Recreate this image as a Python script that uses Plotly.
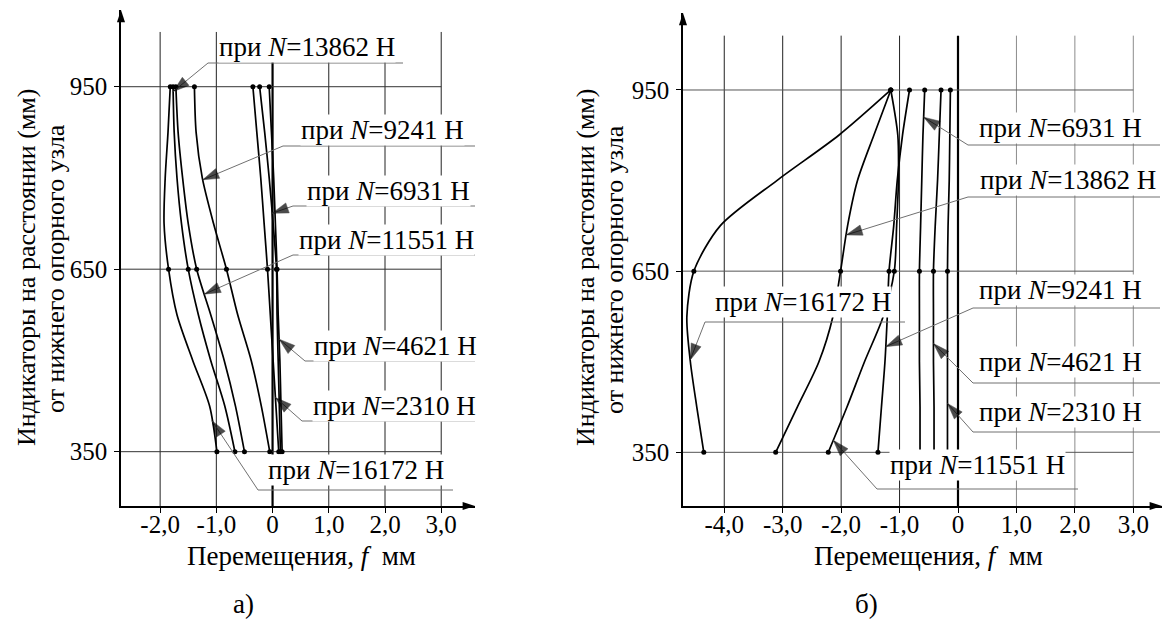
import numpy as np
import plotly.graph_objects as go

W, H = 1165, 623
SERIF = "Liberation Serif, Times New Roman, Times, serif"

# Indicator positions along the member, mm from the lower support node
depth = [350, 425, 500, 575, 650, 725, 800, 875, 950]
gauge_levels = [350, 650, 950]

# Panel а): displacement f, mm, at each depth level
f_a_16172 = [-0.99, -1.12, -1.42, -1.70, -1.85, -1.93, -1.91, -1.86, -1.82]
f_a_13862 = [-0.67, -0.85, -1.10, -1.32, -1.50, -1.62, -1.70, -1.75, -1.77]
f_a_11551 = [-0.50, -0.66, -0.86, -1.10, -1.35, -1.50, -1.60, -1.68, -1.72]
f_a_9241 = [-0.05, -0.20, -0.38, -0.62, -0.82, -1.05, -1.25, -1.36, -1.39]
f_a_6931 = [0.14, 0.12, 0.10, 0.08, 0.07, 0.01, -0.06, -0.14, -0.23]
f_a_4621 = [0.17, 0.15, 0.13, 0.10, 0.08, 0.05, 0.02, -0.02, -0.06]
f_a_2310 = [0.11, 0.06, 0.01, -0.04, -0.09, -0.15, -0.21, -0.28, -0.35]

# Panel б): displacement f, mm, at each depth level
f_b_16172 = [-4.35, -4.47, -4.58, -4.64, -4.52, -4.07, -3.10, -2.04, -1.15]
f_b_13862 = [-3.12, -2.75, -2.38, -2.14, -2.01, -1.89, -1.72, -1.44, -1.15]
f_b_11551 = [-2.22, -1.90, -1.60, -1.28, -1.09, -1.05, -1.02, -1.03, -1.15]
f_b_9241 = [-1.37, -1.31, -1.25, -1.21, -1.18, -1.10, -1.04, -0.95, -0.83]
f_b_6931 = [-0.65, -0.65, -0.66, -0.66, -0.66, -0.64, -0.62, -0.60, -0.57]
f_b_4621 = [-0.41, -0.41, -0.42, -0.42, -0.42, -0.39, -0.35, -0.32, -0.29]
f_b_2310 = [-0.18, -0.18, -0.18, -0.18, -0.18, -0.17, -0.15, -0.14, -0.13]

series_a = {16172: f_a_16172, 13862: f_a_13862, 11551: f_a_11551, 9241: f_a_9241,
            6931: f_a_6931, 4621: f_a_4621, 2310: f_a_2310}
series_b = {16172: f_b_16172, 13862: f_b_13862, 11551: f_b_11551, 9241: f_b_9241,
            6931: f_b_6931, 4621: f_b_4621, 2310: f_b_2310}

xtick_a = [-2, -1, 0, 1, 2, 3]
xtext_a = ["-2,0", "-1,0", "0", "1,0", "2,0", "3,0"]
xtick_b = [-4, -3, -2, -1, 0, 1, 2, 3]
xtext_b = ["-4,0", "-3,0", "-2,0", "-1,0", "0", "1,0", "2,0", "3,0"]
ytick = [350, 650, 950]
ytext = ["350", "650", "950"]

# Panel frames: axis box in page pixels and the value ranges spanned by it
panels = {
    "a": dict(xa="x", ya="y", px=(121, 475), py=(506, 10),
              xr=(-2.696, 3.601), yr=(260.7, 1076.1)),
    "b": dict(xa="x2", ya="y2", px=(683, 1162), py=(506, 13),
              xr=(-4.706, 3.491), yr=(261.1, 1077.5)),
}
GRID_TOP = 1040


def to_data(p, px, py):
    x0, x1 = p["px"]
    a0, a1 = p["xr"]
    y0, y1 = p["py"]
    b0, b1 = p["yr"]
    return (a0 + (px - x0) / (x1 - x0) * (a1 - a0),
            b0 + (py - y0) / (y1 - y0) * (b1 - b0))


fig = go.Figure()
shapes = []
annotations = []

axis_font = dict(family=SERIF, size=25, color="black")
text_font = dict(family=SERIF, size=27, color="black")

for key, xt, xtt in (("a", xtick_a, xtext_a), ("b", xtick_b, xtext_b)):
    p = panels[key]
    xname = "xaxis" if p["xa"] == "x" else "xaxis2"
    yname = "yaxis" if p["ya"] == "y" else "yaxis2"
    fig.layout[xname] = dict(
        domain=[p["px"][0] / W, p["px"][1] / W], range=list(p["xr"]),
        tickmode="array", tickvals=xt, ticktext=xtt,
        showgrid=False, zeroline=False, showline=True, linecolor="black", linewidth=1.5,
        ticks="outside", ticklen=5, tickwidth=1, tickcolor="black",
        tickfont=axis_font, ticklabelstandoff=-10, anchor=p["ya"], fixedrange=True)
    fig.layout[yname] = dict(
        domain=[1 - p["py"][0] / H, 1 - p["py"][1] / H], range=list(p["yr"]),
        tickmode="array", tickvals=ytick, ticktext=ytext,
        showgrid=False, zeroline=False, showline=True, linecolor="black", linewidth=1.5,
        ticks="outside", ticklen=5, tickwidth=1, tickcolor="black",
        tickfont=axis_font, ticklabelstandoff=2, anchor=p["xa"], fixedrange=True)

    # grid: verticals at every tick, the zero line heavier; horizontals up to 3,0
    for v in xt:
        col = "#222222" if (key == "a" or v <= 0) else "#8c8c8c"
        shapes.append(dict(type="line", xref=p["xa"], yref=p["ya"], x0=v, x1=v,
                           y0=p["yr"][0], y1=GRID_TOP, layer="below",
                           line=dict(color="black" if v == 0 else col, width=2.2 if v == 0 else 1)))
    for h in ytick:
        shapes.append(dict(type="line", xref=p["xa"], yref=p["ya"], x0=p["xr"][0], x1=3.0,
                           y0=h, y1=h, layer="below",
                           line=dict(color="#333333" if key == "a" else "#555555", width=1)))

    # arrowheads closing both axes
    fig.add_trace(go.Scatter(x=[p["xr"][0]], y=[p["yr"][1]], mode="markers",
                             marker=dict(symbol="arrow", angle=0, size=13, color="black"),
                             cliponaxis=False, xaxis=p["xa"], yaxis=p["ya"], hoverinfo="skip"))
    fig.add_trace(go.Scatter(x=[p["xr"][1]], y=[p["yr"][0]], mode="markers",
                             marker=dict(symbol="arrow", angle=90, size=13, color="black"),
                             cliponaxis=False, xaxis=p["xa"], yaxis=p["ya"], hoverinfo="skip"))

# displacement profiles with the measured indicator points
for key, series in (("a", series_a), ("b", series_b)):
    p = panels[key]
    for load, f in series.items():
        fig.add_trace(go.Scatter(x=f, y=depth, mode="lines", name=f"N={load}",
                                 line=dict(color="black", width=1.7, shape="spline", smoothing=0.8),
                                 xaxis=p["xa"], yaxis=p["ya"], hoverinfo="skip"))
        gx = [f[depth.index(lv)] for lv in gauge_levels]
        fig.add_trace(go.Scatter(x=gx, y=gauge_levels, mode="markers",
                                 marker=dict(color="black", size=5),
                                 xaxis=p["xa"], yaxis=p["ya"], hoverinfo="skip"))

# callouts: (load, text centre px, underline (x_left, x_right, y) px, depth the arrow points at)
labels_a = [
    (13862, (307, 47), (208, 403, 63), 942),
    (9241, (382, 130), (283, 483, 146), 797),
    (6931, (388, 191), (293, 483, 206), 742),
    (11551, (387, 240), (293, 483, 255), 609),
    (4621, (395, 346), (305, 483, 361), 535),
    (2310, (394, 406), (302, 483, 421), 439),
    (16172, (356, 470), (258, 453, 490), 401),
]
labels_b = [
    (6931, (1060, 128), (968, 1160, 145), 905),
    (13862, (1068, 180), (968, 1160, 197), 710),
    (9241, (1060, 290), (973, 1160, 308), 525),
    (4621, (1060, 362), (973, 1160, 383), 530),
    (2310, (1060, 412), (973, 1160, 432), 431),
    (11551, (977, 465), (877, 1078, 489), 370),
    (16172, (803, 302), (705, 905, 322), 503),
]

for key, series, labels in (("a", series_a, labels_a), ("b", series_b, labels_b)):
    p = panels[key]
    for load, (tx, ty), (ulx0, ulx1, uly), tip_mm in labels:
        tip_x = float(np.interp(tip_mm, depth, series[load]))
        xr_, yu = to_data(p, ulx1, uly)
        xl_, _ = to_data(p, ulx0, uly)
        fig.add_trace(go.Scatter(
            x=[xr_, xl_, tip_x], y=[yu, yu, tip_mm], mode="lines+markers",
            line=dict(color="#707070", width=1),
            marker=dict(symbol="arrow", angleref="previous", size=[0, 0, 17], color="black",
                        line=dict(color="black", width=0.5)),
            cliponaxis=False, xaxis=p["xa"], yaxis=p["ya"], hoverinfo="skip"))
        annotations.append(dict(
            x=tx / W, y=1 - ty / H, xref="paper", yref="paper", showarrow=False,
            text=f"при <i>N</i>={load} Н", bgcolor="white", borderpad=0,
            font=text_font, xanchor="center", yanchor="middle"))

# axis titles and panel captions
for cx in (301, 928):
    annotations.append(dict(x=cx / W, y=1 - 556 / H, xref="paper", yref="paper", showarrow=False,
                            text="Перемещения,\u00a0<i>f</i>\u00a0\u00a0мм", font=text_font,
                            xanchor="center", yanchor="middle"))
ytitle_font = dict(family=SERIF, size=26, color="black")
for x1, x2 in ((26, 55), (585, 614)):
    annotations.append(dict(x=x1 / W, y=1 - 268 / H, xref="paper", yref="paper", showarrow=False,
                            text="Индикаторы на расстоянии (мм)", textangle=-90, font=ytitle_font,
                            xanchor="center", yanchor="middle"))
    annotations.append(dict(x=x2 / W, y=1 - 269 / H, xref="paper", yref="paper", showarrow=False,
                            text="от нижнего опорного узла", textangle=-90, font=ytitle_font,
                            xanchor="center", yanchor="middle"))
for cx, t in ((243, "а)"), (866, "б)")):
    annotations.append(dict(x=cx / W, y=1 - 604 / H, xref="paper", yref="paper", showarrow=False,
                            text=t, font=dict(family=SERIF, size=27, color="black"),
                            xanchor="center", yanchor="middle"))

fig.update_layout(width=W, height=H, margin=dict(l=0, r=0, t=0, b=0),
                  paper_bgcolor="white", plot_bgcolor="white", showlegend=False,
                  shapes=shapes, annotations=annotations)

fig.write_html("out.html", config={"displayModeBar": False})
